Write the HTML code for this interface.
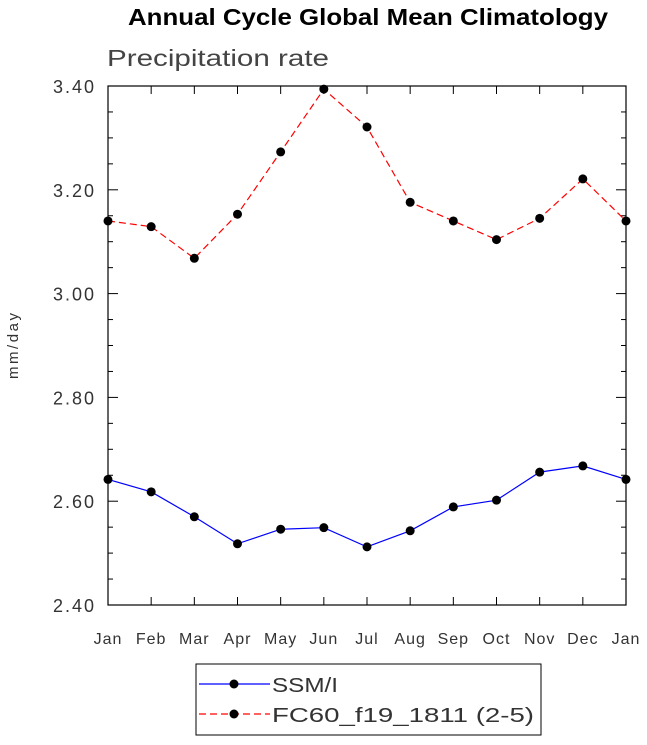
<!DOCTYPE html>
<html><head><meta charset="utf-8"><style>
body{margin:0;background:#fff;}
svg text{font-family:"Liberation Sans",sans-serif;}
</style></head><body>
<svg id="chart" width="647" height="740" xmlns="http://www.w3.org/2000/svg">
<text x="128" y="25" font-size="23" font-weight="bold" textLength="480" lengthAdjust="spacingAndGlyphs">Annual Cycle Global Mean Climatology</text>
<text x="107" y="66" font-size="23" fill="#444" textLength="222" lengthAdjust="spacingAndGlyphs">Precipitation rate</text>
<text transform="translate(18,346) rotate(-90)" text-anchor="middle" font-size="15" fill="#333" textLength="66">mm/day</text>
<g id="axes"></g>
<g id="series"></g>
<g>
<rect x="196" y="664" width="345" height="71" fill="none" stroke="#000" stroke-width="1"/>
<g>
<line x1="199" y1="684" x2="270" y2="684" stroke="#00f" stroke-width="1.2"/>
<circle cx="234" cy="684" r="4.5" fill="#000"/>
<text x="272" y="692" font-size="20" fill="#333" textLength="66" lengthAdjust="spacingAndGlyphs">SSM/I</text></g>
<g>
<line x1="199" y1="714" x2="270" y2="714" stroke="#f00" stroke-width="1.2" stroke-dasharray="7,4"/>
<circle cx="234" cy="714" r="4.5" fill="#000"/>
<text x="272" y="722" font-size="20" fill="#333" textLength="262" lengthAdjust="spacingAndGlyphs">FC60_f19_1811 (2-5)</text></g>
</g>
</svg>
<script>
const months=["Jan","Feb","Mar","Apr","May","Jun","Jul","Aug","Sep","Oct","Nov","Dec","Jan"];
const ssmi=[2.642,2.618,2.570,2.518,2.546,2.549,2.512,2.543,2.589,2.602,2.656,2.668,2.642];
const fc60=[3.140,3.129,3.068,3.153,3.273,3.394,3.321,3.176,3.140,3.104,3.145,3.221,3.140];
const yTicks=[2.40,2.60,2.80,3.00,3.20,3.40];
const yTickLabels=["2.40","2.60","2.80","3.00","3.20","3.40"];
const L=108,R=626,T=86,B=605,ymin=2.4,ymax=3.4;
const xs=i=>L+i*(R-L)/(months.length-1);
const ys=v=>B-(v-ymin)/(ymax-ymin)*(B-T);
const NS="http://www.w3.org/2000/svg";
function mk(tag,attrs,parent){const e=document.createElementNS(NS,tag);for(const k in attrs)e.setAttribute(k,attrs[k]);parent.appendChild(e);return e;}
const ax=document.getElementById('axes'),se=document.getElementById('series');
const frame=mk('rect',{x:L,y:T,width:R-L,height:B-T,fill:'none',stroke:'#000','stroke-width':1.2},ax);


months.forEach((m,i)=>{const x=xs(i);
mk('line',{x1:x,y1:B,x2:x,y2:B-8,stroke:'#000'},ax);
mk('line',{x1:x,y1:T,x2:x,y2:T+8,stroke:'#000'},ax);
const t=mk('text',{x:x,y:B+39,'text-anchor':'middle','font-size':16,fill:'#333','letter-spacing':1},ax);t.textContent=m;

});
for(let v=ymin;v<=ymax+1e-9;v+=0.05){const y=ys(v);const major=Math.abs(Math.round(v*5)-v*5)<1e-6;const len=major?10:5;
mk('line',{x1:L,y1:y,x2:L+len,y2:y,stroke:'#000'},ax);
mk('line',{x1:R,y1:y,x2:R-len,y2:y,stroke:'#000'},ax);}
yTicks.forEach((v,i)=>{const t=mk('text',{x:96,y:ys(v)+7,'text-anchor':'end','font-size':18,fill:'#333','letter-spacing':2},ax);t.textContent=yTickLabels[i];

});
function series(vals,color,dash,name){
const p=mk('polyline',{points:vals.map((v,i)=>xs(i)+','+ys(v)).join(' '),fill:'none',stroke:color,'stroke-width':1.2,'stroke-dasharray':dash},se);


vals.forEach((v,i)=>{const c=mk('circle',{cx:xs(i),cy:ys(v),r:4.5,fill:'#000'},se);

});}
series(ssmi,'#00f','none','ssmi');
series(fc60,'#f00','7,4','fc60');
</script>
</body></html>
